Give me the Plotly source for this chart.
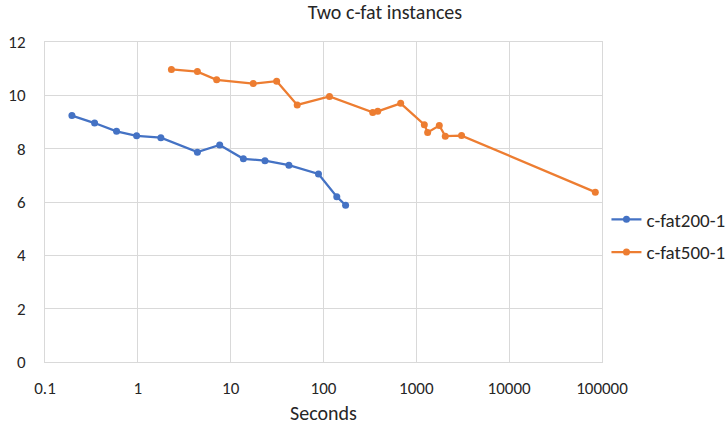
import plotly.graph_objects as go

title = "Two c-fat instances"
x_title = "Seconds"

s1_name = "c-fat200-1"
s1_x = [0.195, 0.342, 0.59, 0.97, 1.77, 4.38, 7.62, 13.7, 23.4, 42.4, 88.3, 139, 173]
s1_y = [9.24, 8.96, 8.65, 8.48, 8.41, 7.87, 8.14, 7.62, 7.55, 7.38, 7.05, 6.20, 5.88]

s2_name = "c-fat500-1"
s2_x = [2.30, 4.38, 7.06, 17.5, 31.3, 52.1, 116, 339, 384, 678, 1219, 1324, 1767, 2050, 3070, 84700]
s2_y = [10.97, 10.89, 10.58, 10.44, 10.53, 9.64, 9.96, 9.36, 9.40, 9.70, 8.90, 8.61, 8.87, 8.47, 8.49, 6.37]

x_ticks = [0.1, 1, 10, 100, 1000, 10000, 100000]
x_ticklabels = ["0.1", "1", "10", "100", "1000", "10000", "100000"]
y_ticks = [0, 2, 4, 6, 8, 10, 12]

FONT = "Calibri, Carlito, Lato, sans-serif"
GRID = "#d9d9d9"
TXT = "#262626"

fig = go.Figure()
fig.add_trace(go.Scatter(x=s1_x, y=s1_y, name=s1_name, mode="lines+markers",
                         legendgroup="a",
                         line=dict(color="#4472C4", width=2.25),
                         marker=dict(color="#4472C4", size=7)))
fig.add_trace(go.Scatter(x=s2_x, y=s2_y, name=s2_name, mode="lines+markers",
                         legendgroup="b",
                         line=dict(color="#ED7D31", width=2.25),
                         marker=dict(color="#ED7D31", size=7)))

fig.update_layout(
    width=727, height=429,
    margin=dict(l=45, r=125, t=42, b=67, autoexpand=False),
    paper_bgcolor="white", plot_bgcolor="white",
    font=dict(family=FONT, size=17, color=TXT),
    title=dict(text=title, x=385/727, xanchor="center", y=1 - 12/429, yanchor="middle",
               font=dict(family=FONT, size=20, color=TXT)),
    legend=dict(x=1.008, y=(362 - 236) / 320, xanchor="left", yanchor="middle",
                font=dict(family=FONT, size=19, color=TXT),
                itemwidth=30, tracegroupgap=5, bgcolor="rgba(0,0,0,0)"),
    showlegend=True,
)
fig.update_xaxes(type="log", range=[-1, 5], tickvals=x_ticks, ticktext=x_ticklabels,
                 showgrid=True, gridcolor=GRID, gridwidth=1,
                 showline=True, linecolor=GRID, mirror=True,
                 ticks="outside", ticklen=11, tickcolor="rgba(0,0,0,0)",
                 zeroline=False, automargin=False,
                 title=dict(text=x_title, font=dict(family=FONT, size=20, color=TXT), standoff=7))
fig.update_yaxes(range=[0, 12], tickvals=y_ticks,
                 showgrid=True, gridcolor=GRID, gridwidth=1,
                 showline=True, linecolor=GRID, mirror=True,
                 ticks="outside", ticklen=15, tickcolor="rgba(0,0,0,0)",
                 zeroline=False, automargin=False)

fig.write_html("out.html", config={"displayModeBar": False},
               post_script="document.body.style.margin='0px';")
